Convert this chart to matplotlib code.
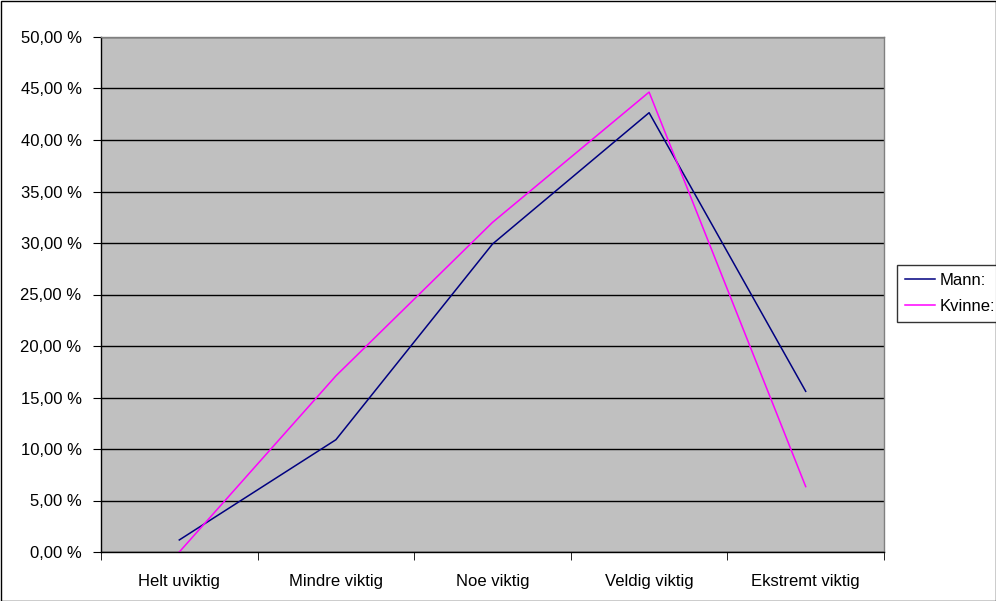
import matplotlib
matplotlib.use("Agg")
import matplotlib.pyplot as plt
from matplotlib.ticker import FuncFormatter, FixedLocator, NullFormatter

plt.rcParams['font.family'] = ['Liberation Sans', 'DejaVu Sans']

categories = ["Helt uviktig", "Mindre viktig", "Noe viktig", "Veldig viktig", "Ekstremt viktig"]
mann = [1.17, 10.9, 29.9, 42.65, 15.6]
kvinne = [0.0, 17.1, 32.0, 44.65, 6.35]
series_names = ["Mann:", "Kvinne:"]

FS = 12

fig = plt.figure(figsize=(9.96, 6.01), dpi=100)
fig.patch.set_facecolor("white")
ax = fig.add_axes([101 / 996, 49 / 601, 783 / 996, 515 / 601])
ax.set_facecolor("#C0C0C0")

x = list(range(len(categories)))
ax.plot(x, mann, color="#000080", lw=1.1, label=series_names[0])
ax.plot(x, kvinne, color="#FF00FF", lw=1.1, label=series_names[1])

ax.set_xlim(-0.5, len(categories) - 0.5)
ax.set_ylim(0, 50)
ax.set_yticks([i * 5 for i in range(11)])
ax.yaxis.set_major_formatter(FuncFormatter(lambda v, p: f"{v:.2f}".replace(".", ",") + " %"))
ax.grid(axis="y", color="black", lw=1.0)
ax.set_axisbelow(True)

ax.set_xticks(x)
ax.set_xticklabels(categories)
ax.tick_params(axis="x", which="major", length=0, pad=16, labelsize=FS)
ax.xaxis.set_minor_locator(FixedLocator([i - 0.5 for i in range(len(categories) + 1)]))
ax.xaxis.set_minor_formatter(NullFormatter())
ax.tick_params(axis="x", which="minor", length=6, direction="out", color="black")
ax.tick_params(axis="y", length=6, direction="out", labelsize=FS, pad=8)

for side in ("left", "bottom"):
    ax.spines[side].set_color("black")
    ax.spines[side].set_linewidth(1.0)
for side in ("top", "right"):
    ax.spines[side].set_color("#808080")
    ax.spines[side].set_linewidth(1.0)

leg = fig.legend(loc="upper left", bbox_to_anchor=(897 / 996, 1 - 265 / 601),
                 frameon=True, fancybox=False, edgecolor="black", fontsize=FS,
                 handlelength=1.8, borderpad=0.45, labelspacing=0.7, handletextpad=0.3,
                 borderaxespad=0)
leg.get_frame().set_linewidth(1.0)

# outer chart border
fig.add_artist(plt.Rectangle((0.5 / 996, 0.5 / 601), 995 / 996, 600 / 601,
                             transform=fig.transFigure, fill=False, edgecolor="black", lw=1.0))

fig.savefig("out.png", dpi=100)
